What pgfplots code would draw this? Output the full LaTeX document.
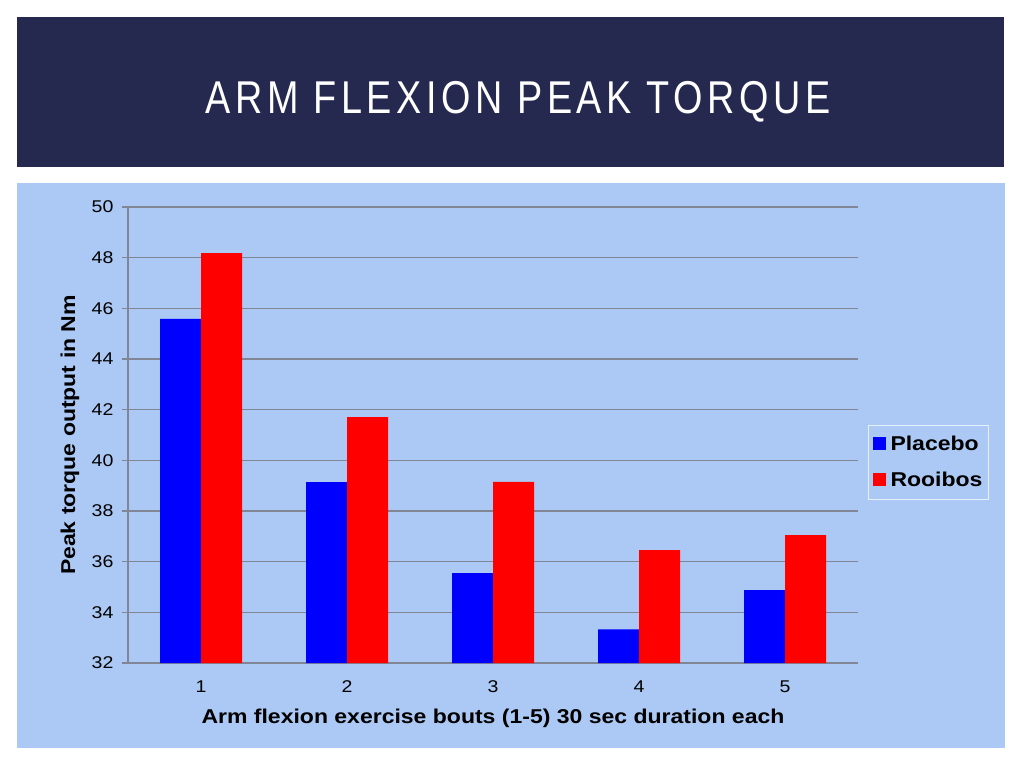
\documentclass[border=0pt]{standalone}
\usepackage{pgfplots}
\pgfplotsset{compat=1.18}
\usepackage{fontspec}
\setmainfont{Liberation Sans}
\newfontfamily\stretched[FakeStretch=1.15]{Liberation Sans}
\newfontfamily\titlefont[LetterSpace=12]{Liberation Sans}
\definecolor{banner}{RGB}{37,41,80}
\definecolor{panel}{RGB}{171,201,244}
\definecolor{gridgray}{RGB}{128,134,150}
\begin{document}
\begin{tikzpicture}[x=1pt,y=1pt]
\fill[white] (0,0) rectangle (1024,768);
\fill[banner] (17,601) rectangle (1004,751);
\node[white,inner sep=0pt] at (518,666) {\resizebox{625pt}{\height}{\titlefont\fontsize{46}{50}\selectfont ARM FLEXION PEAK TORQUE}};
\fill[panel] (17,20) rectangle (1005,585);
\begin{axis}[
  at={(128pt,105pt)}, anchor=south west,
  width=730pt, height=456pt, scale only axis,
  xmin=0.5, xmax=5.5, ymin=32, ymax=50,
  ytick={32,34,...,50}, xtick={1,2,3,4,5},
  ybar=0pt, bar width=41pt,
  axis x line*=bottom, axis y line*=left,
  axis line style={gridgray, line width=1.2pt, -},
  ymajorgrids, grid style={gridgray, line width=1.2pt},
  ytick style={gridgray, line width=1.2pt},
  tick align=outside,
  major tick length=6pt,
  xtick style={draw=none},
  /pgf/number format/assume math mode=true,
  tick label style={font=\stretched\fontsize{17}{17}\selectfont},
  xticklabel style={yshift=-8pt},
  yticklabel style={xshift=-5pt},
  xlabel={Arm flexion exercise bouts (1-5) 30 sec duration each},
  ylabel={Peak torque output in Nm},
  label style={font=\stretched\bfseries\fontsize{20}{20}\selectfont},
  xlabel style={at={(axis description cs:0.5,-0.1206)}, anchor=center},
  ylabel style={at={(axis description cs:-0.0795,0.5)}, anchor=center},
  legend style={at={(axis description cs:1.0137,0.522)}, anchor=north west,
    draw=white!70!panel, fill=panel, line width=1pt,
    font=\stretched\bfseries\fontsize{20}{20}\selectfont,
    row sep=16pt, inner xsep=4pt, inner ysep=9pt},
  legend image code/.code={\fill[#1,draw=none] (0pt,-6pt) rectangle (13pt,7pt); \path (16pt,0pt);},
  legend cell align=left,
]
\addplot[fill=blue, draw=none] coordinates {(1,45.58) (2,39.14) (3,35.55) (4,33.33) (5,34.88)};
\addplot[fill=red, draw=none] coordinates {(1,48.18) (2,41.71) (3,39.15) (4,36.46) (5,37.05)};
\legend{Placebo, Rooibos}
\end{axis}
\end{tikzpicture}
\end{document}
